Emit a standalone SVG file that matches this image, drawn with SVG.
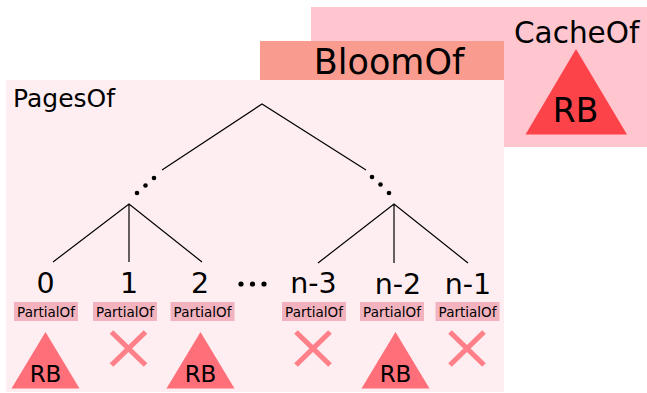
<svg xmlns="http://www.w3.org/2000/svg" width="647" height="393" viewBox="0 0 647 393">
  <style>
    text { font-family: "DejaVu Sans", "Liberation Sans", sans-serif; fill: #000; }
    .edge { stroke: #000; stroke-width: 1.2; fill: none; }
    .dot { fill: #000; }
    .idx { font-size: 28.5px; text-anchor: middle; }
    .ptag { fill: #f2b3be; }
    .ptxt { font-size: 13.5px; text-anchor: middle; }
    .rb { fill: #ff6f79; }
    .rbtxt { font-size: 23px; text-anchor: middle; }
    .nil { stroke: #ff8089; stroke-width: 5.2; fill: none; }
  </style>
  <defs>
    <g id="partial">
      <rect class="ptag" x="-32" y="0" width="64" height="19"/>
      <text class="ptxt" x="0" y="14.5">PartialOf</text>
    </g>
    <g id="rbtree">
      <polygon class="rb" points="0,0 34,56.5 -34,56.5"/>
      <text class="rbtxt" x="0" y="49.5">RB</text>
    </g>
    <g id="empty">
      <path class="nil" d="M-17,1 L17,34 M17,1 L-17,34"/>
    </g>
  </defs>

  <!-- outer cache layer -->
  <g id="cache">
    <rect x="311" y="7" width="336" height="140" fill="#ffc6d0"/>
    <text x="514" y="43" font-size="29.5">CacheOf</text>
    <polygon points="576,49 627,134.5 525.5,134.5" fill="#fc4349"/>
    <text x="575.5" y="122" font-size="33" text-anchor="middle">RB</text>
  </g>

  <!-- bloom filter layer -->
  <g id="bloom">
    <rect x="260" y="41" width="244" height="39" fill="#f99c8f"/>
    <text x="389" y="74" font-size="35" text-anchor="middle">BloomOf</text>
  </g>

  <!-- pages layer -->
  <g id="pages">
    <rect x="6" y="80" width="498" height="312" fill="#feeef1"/>
    <text x="13" y="107" font-size="25">PagesOf</text>
  </g>

  <!-- tree connectors -->
  <g id="connectors">
    <path class="edge" d="M162,170 L262,104 L366,170"/>
    <path class="edge" d="M53,262 L129,204 L202,262 M129,204 L129,262"/>
    <path class="edge" d="M318,263 L394,204 L468,263 M394,204 L394,263"/>
    <circle class="dot" cx="137" cy="193" r="2.3"/>
    <circle class="dot" cx="145.5" cy="185.5" r="2.3"/>
    <circle class="dot" cx="154" cy="178" r="2.3"/>
    <circle class="dot" cx="372" cy="177" r="2.3"/>
    <circle class="dot" cx="380.5" cy="184.5" r="2.3"/>
    <circle class="dot" cx="389" cy="193" r="2.3"/>
  </g>

  <!-- leaf pages -->
  <g id="page-0">
    <text class="idx" x="45.5" y="293">0</text>
    <use href="#partial" x="46" y="302"/>
    <use href="#rbtree" x="45.5" y="332"/>
  </g>
  <g id="page-1">
    <text class="idx" x="129" y="293">1</text>
    <use href="#partial" x="125" y="302"/>
    <use href="#empty" x="128.5" y="331"/>
  </g>
  <g id="page-2">
    <text class="idx" x="200" y="293">2</text>
    <use href="#partial" x="202.5" y="302"/>
    <use href="#rbtree" x="200.5" y="332"/>
  </g>
  <g id="page-gap">
    <circle class="dot" cx="241" cy="284" r="2.6"/>
    <circle class="dot" cx="252.5" cy="284" r="2.6"/>
    <circle class="dot" cx="264" cy="284" r="2.6"/>
  </g>
  <g id="page-n-3">
    <text class="idx" x="313.5" y="293">n-3</text>
    <use href="#partial" x="314" y="302"/>
    <use href="#empty" x="313" y="331"/>
  </g>
  <g id="page-n-2">
    <text class="idx" x="398" y="294">n-2</text>
    <use href="#partial" x="392" y="302"/>
    <use href="#rbtree" x="395.5" y="332"/>
  </g>
  <g id="page-n-1">
    <text class="idx" x="468" y="294">n-1</text>
    <use href="#partial" x="467.5" y="302"/>
    <use href="#empty" x="467" y="331"/>
  </g>
</svg>
